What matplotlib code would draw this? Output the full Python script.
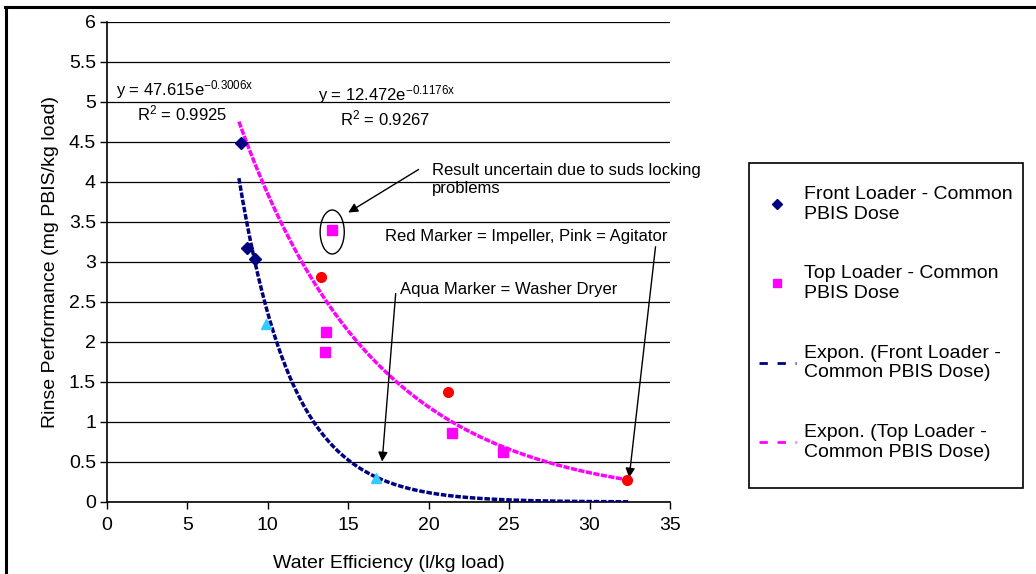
import numpy as np
import matplotlib
matplotlib.use("Agg")
import matplotlib.pyplot as plt
from matplotlib.patches import Ellipse, Rectangle
from matplotlib.lines import Line2D

plt.rcParams['font.family'] = ['Liberation Sans', 'DejaVu Sans']
plt.rcParams['mathtext.fontset'] = 'custom'
plt.rcParams['mathtext.rm'] = 'Liberation Sans'
plt.rcParams['mathtext.default'] = 'regular'

# ---- data ----
front_x = [8.3, 8.7, 9.2]
front_y = [4.49, 3.17, 3.04]
washer_dryer_x = [9.9, 16.7]
washer_dryer_y = [2.23, 0.30]
top_x = [14.0, 13.6, 13.55, 21.45, 24.6]
top_y = [3.40, 2.12, 1.87, 0.86, 0.63]
impeller_x = [13.3, 21.2, 32.3]
impeller_y = [2.81, 1.37, 0.27]

front_fit_a, front_fit_b = 47.615, -0.3006
top_fit_a, top_fit_b = 12.472, -0.1176
fit_x_min, fit_x_max = 8.2, 32.4

x_ticks = [0, 5, 10, 15, 20, 25, 30, 35]
y_ticks = [0, 0.5, 1, 1.5, 2, 2.5, 3, 3.5, 4, 4.5, 5, 5.5, 6]

NAVY = '#000080'
MAGENTA = '#FF00FF'
RED = '#FF0000'
AQUA = '#33CCFF'

W, H = 1036, 574
fig = plt.figure(figsize=(W / 100, H / 100), dpi=100)
ax = fig.add_axes([107 / W, 1 - 502 / H, (670 - 107) / W, (502 - 22) / H])

fx = np.linspace(fit_x_min, fit_x_max, 300)
ax.plot(fx, front_fit_a * np.exp(front_fit_b * fx), color=NAVY, lw=2.5,
        linestyle=(0, (1.6, 0.5)), zorder=3)
ax.plot(fx, top_fit_a * np.exp(top_fit_b * fx), color=MAGENTA, lw=2.5,
        linestyle=(0, (1.8, 0.4)), zorder=3)

ax.plot(front_x, front_y, 'D', color=NAVY, ms=6.5, zorder=4)
ax.plot(washer_dryer_x, washer_dryer_y, '^', color=AQUA, ms=7.5, zorder=4)
ax.plot(top_x, top_y, 's', color=MAGENTA, ms=7, zorder=4)
ax.plot(impeller_x, impeller_y, 'o', color=RED, ms=7, zorder=4)

ax.set_xlim(0, 35)
ax.set_ylim(0, 6)
ax.set_xticks(x_ticks)
ax.set_yticks(y_ticks)
ax.set_yticklabels(['%g' % v for v in y_ticks])
ax.set_xticklabels(['%g' % v for v in x_ticks])
ax.tick_params(labelsize=14, length=5, width=1, direction='out', colors='black')
ax.tick_params(axis='x', pad=6)
ax.tick_params(axis='y', pad=3)
for s in ['top', 'right']:
    ax.spines[s].set_visible(False)
for s in ['left', 'bottom']:
    ax.spines[s].set_linewidth(1.2)
ax.yaxis.grid(True, color='black', lw=0.9)
ax.set_axisbelow(True)

ax.set_xlabel('Water Efficiency (l/kg load)', fontsize=14, labelpad=15)
ax.set_ylabel('Rinse Performance (mg PBIS/kg load)', fontsize=14, labelpad=7)

# equations
ax.text(0.56, 5.15, r'y = 47.615e$^{-0.3006x}$', fontsize=12, va='center', ha='left')
ax.text(1.86, 4.86, r'R$^{2}$ = 0.9925', fontsize=12, va='center', ha='left')
ax.text(13.1, 5.09, r'y = 12.472e$^{-0.1176x}$', fontsize=12, va='center', ha='left')
ax.text(14.5, 4.80, r'R$^{2}$ = 0.9267', fontsize=12, va='center', ha='left')

# annotations
ax.add_patch(Ellipse((14.0, 3.375), 1.5, 0.55, fill=False, ec='black', lw=1, zorder=5))
ax.annotate('', xy=(14.85, 3.6), xytext=(19.52, 4.175),
            arrowprops=dict(arrowstyle='-|>', color='black', lw=1, mutation_scale=14))
ax.text(20.2, 4.03, 'Result uncertain due to suds locking\nproblems', fontsize=12,
        va='center', ha='left', linespacing=1.25)
ax.text(17.3, 3.32, 'Red Marker = Impeller, Pink = Agitator', fontsize=12,
        va='center', ha='left')
ax.annotate('', xy=(32.44, 0.27), xytext=(34.12, 3.225),
            arrowprops=dict(arrowstyle='-|>', color='black', lw=1, mutation_scale=14))
ax.text(18.2, 2.66, 'Aqua Marker = Washer Dryer', fontsize=12, va='center', ha='left')
ax.annotate('', xy=(17.09, 0.47), xytext=(17.96, 2.64),
            arrowprops=dict(arrowstyle='-|>', color='black', lw=1, mutation_scale=14))

# legend
handles = [
    Line2D([], [], marker='D', color=NAVY, ls='none', ms=5),
    Line2D([], [], marker='s', color=MAGENTA, ls='none', ms=6),
    Line2D([], [], color=NAVY, lw=2, ls=(0, (3, 3.5))),
    Line2D([], [], color=MAGENTA, lw=2, ls=(0, (3, 3.5))),
]
labels = ['Front Loader - Common\nPBIS Dose', 'Top Loader - Common\nPBIS Dose',
          'Expon. (Front Loader -\nCommon PBIS Dose)', 'Expon. (Top Loader -\nCommon PBIS Dose)']
fig.legend(handles, labels, loc='upper left', bbox_to_anchor=(759 / W, 1 - 186 / H),
           frameon=False, fontsize=14, handlelength=1.9, handletextpad=0.42,
           labelspacing=2.2, borderpad=0, borderaxespad=0)
fig.patches.append(Rectangle((749 / W, 1 - 488 / H), (1023 - 749) / W, (488 - 163) / H,
                             transform=fig.transFigure, fill=False, ec='black', lw=1.2))

# outer frame (top and left)
fig.add_artist(Line2D([5 / W, 1], [1 - 7 / H, 1 - 7 / H], transform=fig.transFigure,
                      color='black', lw=2.2))
fig.add_artist(Line2D([6 / W, 6 / W], [0, 1 - 7 / H], transform=fig.transFigure,
                      color='black', lw=2.2))

fig.savefig('out.png', dpi=100)
